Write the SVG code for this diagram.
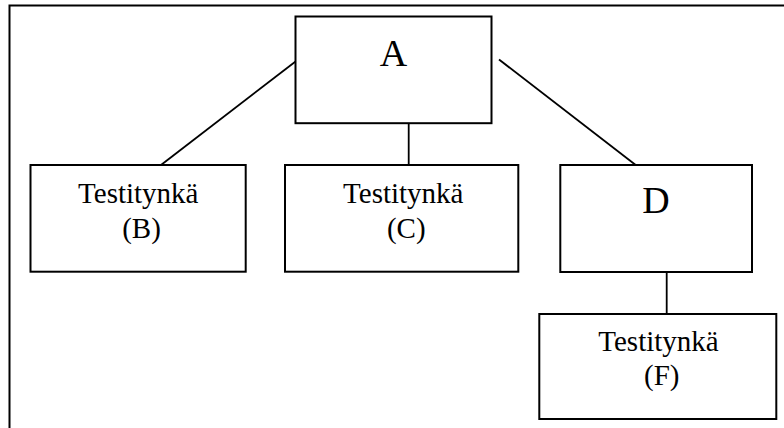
<svg xmlns="http://www.w3.org/2000/svg" width="784" height="428" viewBox="0 0 784 428">
  <style>
    .box { fill: #ffffff; stroke: #000000; stroke-width: 2; }
    .frame { fill: none; stroke: #000000; stroke-width: 2; }
    .link { stroke: #000000; stroke-width: 1.8; fill: none; }
    .big { font-family: "Liberation Serif", "Times New Roman", serif; font-size: 38px; fill: #000000; text-anchor: middle; }
    .lbl { font-family: "Liberation Serif", "Times New Roman", serif; font-size: 29px; fill: #000000; text-anchor: middle; }
  </style>
  <rect width="784" height="428" fill="#ffffff"/>
  <!-- outer frame, open at the right and bottom -->
  <rect class="frame" x="9.5" y="5.5" width="820" height="460"/>

  <g id="connectors">
    <line class="link" x1="297.5" y1="60" x2="161" y2="165"/>
    <line class="link" x1="408.7" y1="123" x2="408.7" y2="165"/>
    <line class="link" x1="499" y1="59.5" x2="635.7" y2="165"/>
    <line class="link" x1="666.7" y1="272" x2="666.7" y2="314"/>
  </g>

  <g id="node-A">
    <rect class="box" x="295.5" y="16.5" width="196" height="106.7"/>
    <text class="big" x="393.5" y="65.5">A</text>
  </g>

  <g id="node-B">
    <rect class="box" x="30.5" y="165" width="215.2" height="106.7"/>
    <text class="lbl" x="138.3" y="203.3">Testitynkä</text>
    <text class="lbl" x="141.5" y="237.5">(B)</text>
  </g>

  <g id="node-C">
    <rect class="box" x="285" y="165" width="233.3" height="106.7"/>
    <text class="lbl" x="403.3" y="203.3">Testitynkä</text>
    <text class="lbl" x="406.3" y="237.5">(C)</text>
  </g>

  <g id="node-D">
    <rect class="box" x="560.3" y="165" width="191.7" height="107"/>
    <text class="big" x="656" y="213.3">D</text>
  </g>

  <g id="node-F">
    <rect class="box" x="539.3" y="314" width="237" height="105"/>
    <text class="lbl" x="658.5" y="350.5">Testitynkä</text>
    <text class="lbl" x="661.7" y="385">(F)</text>
  </g>
</svg>
